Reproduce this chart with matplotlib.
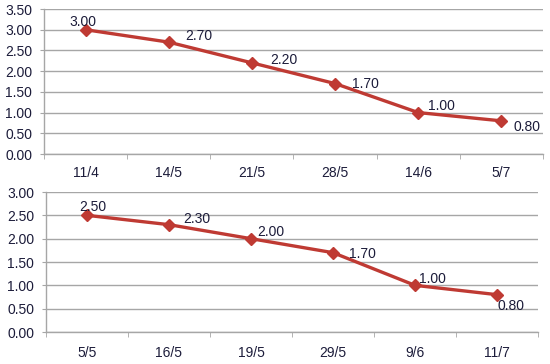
import matplotlib
matplotlib.use("Agg")
import matplotlib.pyplot as plt
import numpy as np

plt.rcParams['font.family'] = ['Liberation Sans', 'DejaVu Sans']

top_categories = ["11/4", "14/5", "21/5", "28/5", "14/6", "5/7"]
top_values = [3.00, 2.70, 2.20, 1.70, 1.00, 0.80]
top_yticks = [0.0, 0.5, 1.0, 1.5, 2.0, 2.5, 3.0, 3.5]

bottom_categories = ["5/5", "16/5", "19/5", "29/5", "9/6", "11/7"]
bottom_values = [2.50, 2.30, 2.00, 1.70, 1.00, 0.80]
bottom_yticks = [0.0, 0.5, 1.0, 1.5, 2.0, 2.5, 3.0]

# label offsets in pixels (dx, dy, ha)
top_offsets = [(-3, 8, 'center'), (17, 6, 'left'), (18, 3, 'left'),
               (17, 0, 'left'), (10, 7, 'left'), (12, -6, 'left')]
bottom_offsets = [(6, 8, 'center'), (14, 6, 'left'), (6, 7, 'left'),
                  (16, -1, 'left'), (4, 6, 'left'), (1, -11, 'left')]

LINE = '#BF3A33'
GRID = '#A6A6A6'
TXT = '#1C1C3A'
FS = 10

fig = plt.figure(figsize=(5.5, 3.64), dpi=100)

def draw(ax, cats, vals, yticks, offsets, xpad):
    n = len(cats)
    x = np.arange(n)
    ax.plot(x, vals, color=LINE, lw=2.4, marker='D', ms=6,
            markerfacecolor=LINE, markeredgecolor=LINE, zorder=3)
    ax.set_xlim(-0.5, n - 0.5)
    ax.set_ylim(yticks[0], yticks[-1])
    ax.set_yticks(yticks)
    ax.set_yticklabels([f"{t:.2f}" for t in yticks])
    ax.set_xticks(x)
    ax.set_xticklabels(cats)
    ax.set_xticks(np.arange(n + 1) - 0.5, minor=True)
    ax.tick_params(axis='x', which='major', length=0, pad=xpad, labelsize=FS, labelcolor=TXT)
    ax.tick_params(axis='x', which='minor', length=3.5, color=GRID, direction='out')
    ax.tick_params(axis='y', length=3, color=GRID, pad=5.5, labelsize=FS, labelcolor=TXT)
    ax.grid(axis='y', color=GRID, lw=1)
    ax.set_axisbelow(True)
    for s in ['top', 'right']:
        ax.spines[s].set_visible(False)
    for s in ['left', 'bottom']:
        ax.spines[s].set_color(GRID)
        ax.spines[s].set_linewidth(1)
    for xi, v, (dx, dy, ha) in zip(x, vals, offsets):
        ax.annotate(f"{v:.2f}", (xi, v), xytext=(dx, dy), textcoords='offset pixels',
                    ha=ha, va='center', fontsize=FS, color=TXT, zorder=4)

ax1 = fig.add_axes([44/550, 1-154/364, 499/550, 145/364])
draw(ax1, top_categories, top_values, top_yticks, top_offsets, 8.5)
ax2 = fig.add_axes([46/550, 1-332/364, 492/550, 140/364])
draw(ax2, bottom_categories, bottom_values, bottom_yticks, bottom_offsets, 10)

fig.savefig("out.png", dpi=100, facecolor='white')
